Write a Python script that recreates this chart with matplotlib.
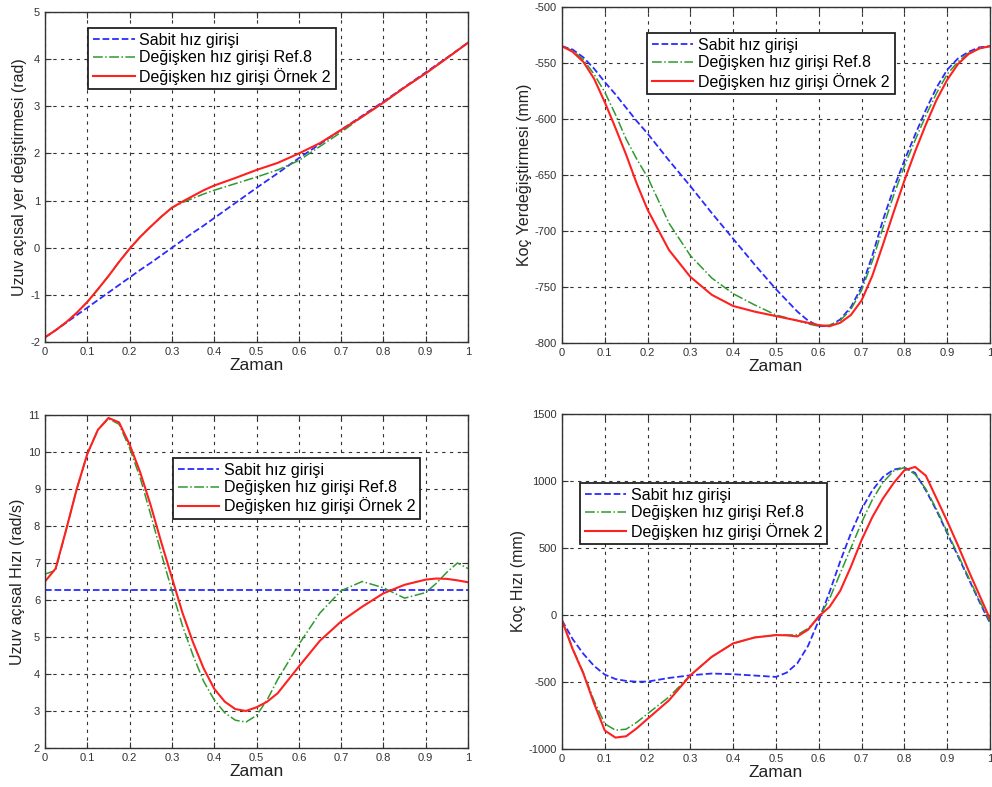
import matplotlib
matplotlib.use("Agg")
import matplotlib.pyplot as plt
from matplotlib.ticker import FormatStrFormatter

plt.rcParams['font.family'] = ['Liberation Sans', 'DejaVu Sans']
plt.rcParams['axes.unicode_minus'] = False

labels = ["Sabit hız girişi", "Değişken hız girişi Ref.8", "Değişken hız girişi Örnek 2"]

# --- Uzuv açısal yer değiştirmesi (rad)
t1 = [0, 0.025, 0.05, 0.075, 0.1, 0.125, 0.15, 0.175, 0.2, 0.225, 0.25, 0.275, 0.3, 0.325, 0.35, 0.375, 0.4,
      0.45, 0.5, 0.55, 0.6, 0.65, 0.7, 0.75, 0.8, 0.85, 0.9, 0.95, 1.0]
disp_sabit = [-1.9, -1.75, -1.59, -1.43, -1.27, -1.11, -0.95, -0.79, -0.63, -0.47, -0.32, -0.16, 0.0, 0.16, 0.32, 0.47, 0.63,
              0.95, 1.27, 1.58, 1.9, 2.2, 2.5, 2.8, 3.1, 3.41, 3.72, 4.03, 4.35]
disp_ref8 = [-1.9, -1.75, -1.58, -1.38, -1.15, -0.88, -0.6, -0.3, -0.02, 0.23, 0.45, 0.66, 0.85, 0.96, 1.05, 1.14, 1.22,
             1.36, 1.5, 1.65, 1.85, 2.15, 2.45, 2.78, 3.08, 3.4, 3.7, 4.02, 4.35]
disp_ornek2 = [-1.9, -1.75, -1.58, -1.38, -1.15, -0.88, -0.6, -0.3, -0.02, 0.23, 0.45, 0.66, 0.85, 0.98, 1.1, 1.22, 1.32,
               1.48, 1.65, 1.8, 2.0, 2.22, 2.5, 2.78, 3.08, 3.4, 3.7, 4.02, 4.35]

# --- Koç yer değiştirmesi (mm)
t2 = [0, 0.025, 0.05, 0.075, 0.1, 0.125, 0.15, 0.175, 0.2, 0.25, 0.3, 0.35, 0.4, 0.45, 0.5, 0.55, 0.575, 0.6, 0.625,
      0.65, 0.675, 0.7, 0.725, 0.75, 0.775, 0.8, 0.825, 0.85, 0.875, 0.9, 0.925, 0.95, 0.975, 1.0]
koc_sabit = [-535, -538, -545, -555, -567, -578, -590, -602, -613, -637, -660, -684, -707, -730, -752, -772, -780, -785, -785,
             -779, -768, -750, -722, -690, -662, -637, -614, -592, -572, -556, -546, -540, -536, -535]
koc_ref8 = [-535, -539, -547, -560, -576, -596, -618, -636, -652, -693, -722, -742, -756, -766, -775, -780, -783, -785, -784,
            -780, -770, -753, -727, -697, -668, -642, -619, -597, -577, -560, -549, -541, -537, -535]
koc_ornek2 = [-535, -540, -549, -564, -585, -608, -632, -658, -681, -717, -741, -757, -767, -772, -776, -780, -782, -784, -785,
              -782, -775, -762, -740, -712, -683, -655, -629, -605, -583, -565, -551, -542, -537, -535]

# --- Uzuv açısal hızı (rad/s)
t3 = [0, 0.025, 0.05, 0.075, 0.1, 0.125, 0.15, 0.175, 0.2, 0.225, 0.25, 0.275, 0.3, 0.325, 0.35, 0.375, 0.4, 0.425, 0.45, 0.475,
      0.5, 0.525, 0.55, 0.6, 0.65, 0.7, 0.75, 0.8, 0.85, 0.9, 0.925, 0.95, 0.975, 1.0]
hiz_sabit = [6.28] * len(t3)
hiz_ref8 = [6.7, 6.8, 7.9, 9.0, 9.95, 10.6, 10.9, 10.75, 10.1, 9.3, 8.3, 7.25, 6.25, 5.3, 4.5, 3.8, 3.3, 2.95, 2.75, 2.7,
            2.88, 3.3, 3.85, 4.8, 5.65, 6.25, 6.5, 6.33, 6.05, 6.2, 6.45, 6.75, 7.0, 6.85]
hiz_ornek2 = [6.5, 6.85, 7.9, 9.0, 9.95, 10.6, 10.92, 10.8, 10.2, 9.45, 8.55, 7.55, 6.6, 5.65, 4.85, 4.15, 3.6, 3.25, 3.05, 3.0,
              3.1, 3.25, 3.48, 4.2, 4.9, 5.42, 5.82, 6.18, 6.41, 6.55, 6.58, 6.57, 6.53, 6.48]

# --- Koç hızı (mm)
t4 = [0, 0.025, 0.05, 0.075, 0.1, 0.125, 0.15, 0.175, 0.2, 0.25, 0.3, 0.35, 0.4, 0.45, 0.5, 0.525, 0.55, 0.575, 0.6,
      0.625, 0.65, 0.675, 0.7, 0.725, 0.75, 0.775, 0.8, 0.825, 0.85, 0.875, 0.9, 0.925, 0.95, 0.975, 1.0]
khiz_sabit = [-40, -180, -290, -380, -445, -478, -492, -498, -497, -470, -450, -437, -442, -452, -462, -430, -360, -230, -40,
              170, 400, 610, 790, 930, 1030, 1085, 1100, 1060, 930, 780, 610, 440, 270, 100, -60]
khiz_ref8 = [-40, -250, -430, -640, -812, -860, -852, -800, -737, -612, -450, -312, -212, -168, -150, -150, -148, -100, -20,
             120, 310, 500, 690, 860, 990, 1075, 1100, 1050, 940, 790, 620, 450, 280, 110, -50]
khiz_ornek2 = [-40, -255, -437, -660, -862, -915, -905, -845, -775, -637, -450, -312, -212, -168, -150, -152, -160, -110, -10,
               60, 180, 360, 560, 730, 870, 985, 1080, 1105, 1040, 870, 700, 520, 330, 150, -30]

blue = '#2b2bff'
green = '#2f9a2f'
red = '#ff2020'

fig = plt.figure(figsize=(9.92, 7.87), dpi=100)

panels = [
    ([0.0454, 0.5654, 0.4264, 0.4193], t1, disp_sabit, disp_ref8, disp_ornek2, (-2, 5), range(-2, 6),
     "Uzuv açısal yer değiştirmesi (rad)", (0.102, 0.9515)),
    ([0.5665, 0.5642, 0.4315, 0.4269], t2, koc_sabit, koc_ref8, koc_ornek2, (-800, -500), range(-800, -499, 50),
     "Koç Yerdeğiştirmesi (mm)", (0.199, 0.9226)),
    ([0.0454, 0.0496, 0.4264, 0.4231], t3, hiz_sabit, hiz_ref8, hiz_ornek2, (2, 11), range(2, 12),
     "Uzuv açısal Hızı (rad/s)", (0.3026, 0.871)),
    ([0.5665, 0.0483, 0.4315, 0.4257], t4, khiz_sabit, khiz_ref8, khiz_ornek2, (-1000, 1500), range(-1000, 1501, 500),
     "Koç Hızı (mm)", (0.042, 0.794)),
]

for rect, t, ys, yr, yo, ylim, yticks, ylabel, leg_pos in panels:
    ax = fig.add_axes(rect)
    ax.plot(t, ys, '--', color=blue, lw=1.3, label=labels[0])
    ax.plot(t, yr, '-.', color=green, lw=1.1, label=labels[1])
    ax.plot(t, yo, '-', color=red, lw=1.5, label=labels[2])
    ax.set_xlim(0, 1)
    ax.set_ylim(*ylim)
    ax.set_xticks([i / 10 for i in range(11)])
    ax.set_yticks(list(yticks))
    ax.xaxis.set_major_formatter(FormatStrFormatter('%g'))
    ax.tick_params(direction='in', labelsize=8, colors='#333333', length=4, top=True, right=True)
    ax.grid(True, color='#333333', linestyle=(0, (3, 4)), lw=0.8)
    for s in ax.spines.values():
        s.set_color('#333333')
        s.set_linewidth(1.0)
    ax.set_xlabel("Zaman", fontsize=12.5, labelpad=1, color='#222222')
    ax.set_ylabel(ylabel, fontsize=11.5, labelpad=2, color='#222222')
    leg = ax.legend(loc='upper left', bbox_to_anchor=leg_pos, borderaxespad=0, fontsize=11.5,
                    handlelength=2.6, handletextpad=0.3, labelspacing=0.15, borderpad=0.3,
                    fancybox=False, framealpha=1)
    leg.get_frame().set_edgecolor('#222222')
    leg.get_frame().set_linewidth(1.3)

fig.savefig("out.png", dpi=100)
